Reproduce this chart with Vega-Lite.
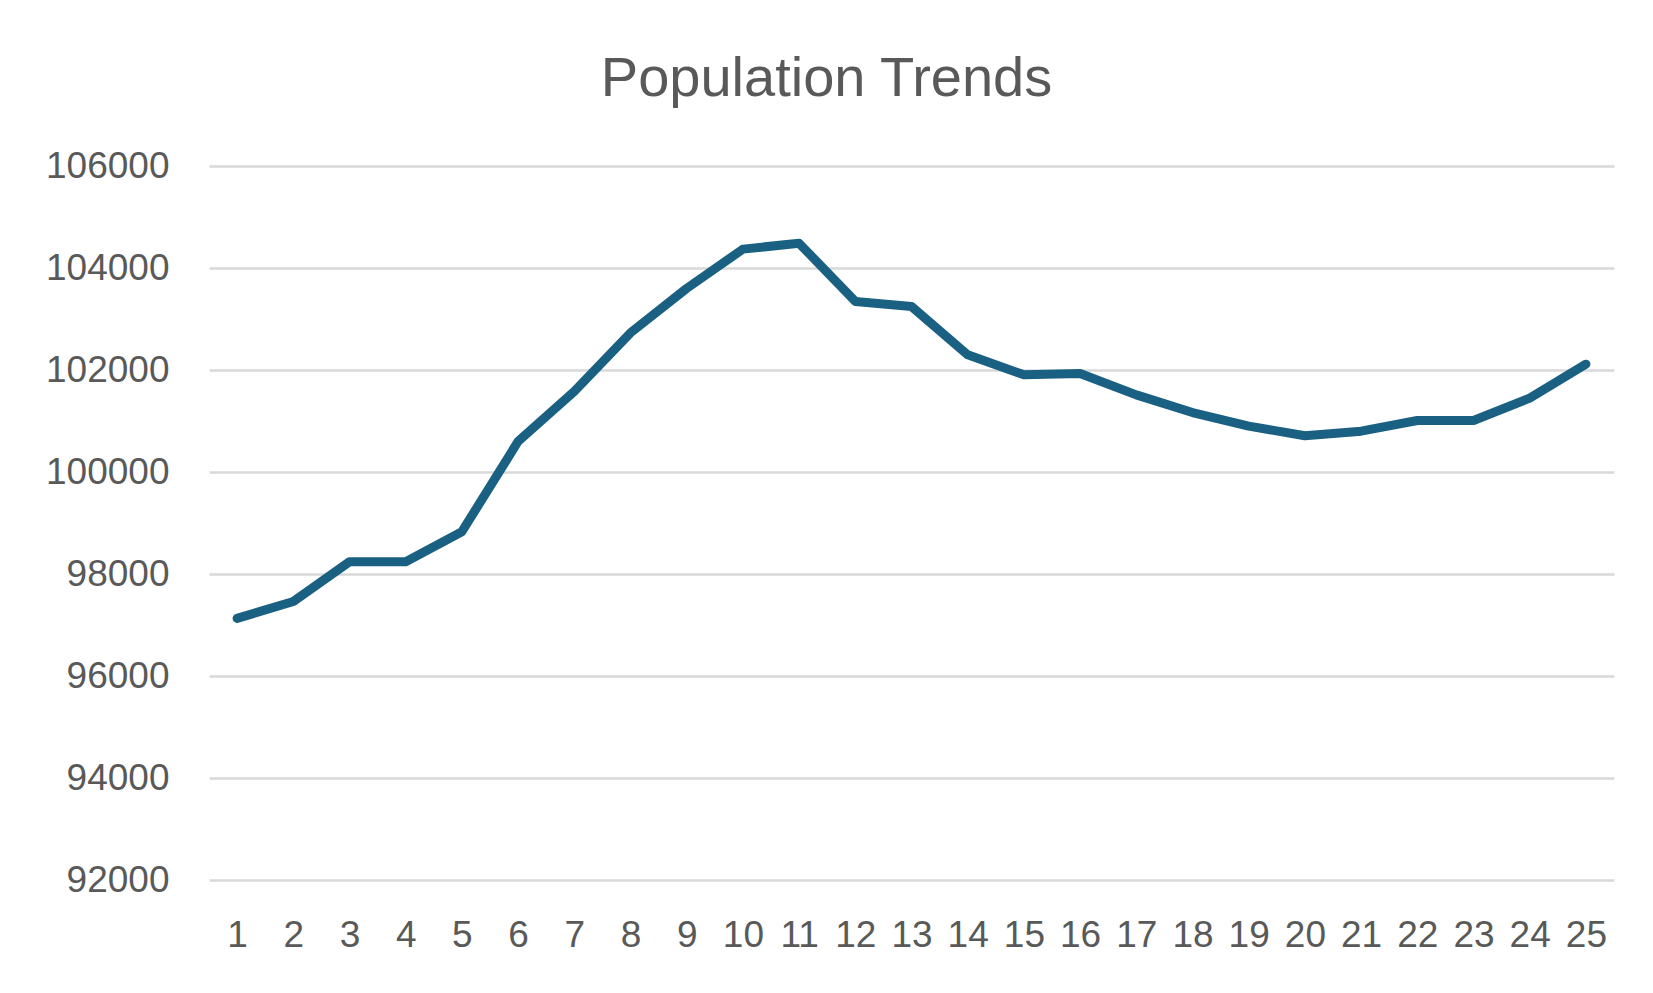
{
  "$schema": "https://vega.github.io/schema/vega-lite/v6.json",
  "autosize": {"type": "none"},
  "width": 1405,
  "height": 714,
  "padding": {"left": 209, "top": 166, "right": 39, "bottom": 113},
  "background": "white",
  "title": {
    "text": "Population Trends",
    "font": "Liberation Sans",
    "fontSize": 56,
    "fontWeight": "normal",
    "color": "#595959",
    "anchor": "middle",
    "dx": -85,
    "baseline": "alphabetic",
    "offset": -5
  },
  "data": {
    "values": [
      {"x": 1, "population": 97130},
      {"x": 2, "population": 97460},
      {"x": 3, "population": 98240},
      {"x": 4, "population": 98240},
      {"x": 5, "population": 98830},
      {"x": 6, "population": 100600},
      {"x": 7, "population": 101580},
      {"x": 8, "population": 102730},
      {"x": 9, "population": 103600},
      {"x": 10, "population": 104370},
      {"x": 11, "population": 104485},
      {"x": 12, "population": 103345},
      {"x": 13, "population": 103245},
      {"x": 14, "population": 102297},
      {"x": 15, "population": 101905},
      {"x": 16, "population": 101930},
      {"x": 17, "population": 101513},
      {"x": 18, "population": 101166},
      {"x": 19, "population": 100900},
      {"x": 20, "population": 100710},
      {"x": 21, "population": 100800},
      {"x": 22, "population": 101010},
      {"x": 23, "population": 101010},
      {"x": 24, "population": 101449},
      {"x": 25, "population": 102114}
    ]
  },
  "mark": {"type": "line", "color": "#1a6082", "strokeWidth": 9, "strokeCap": "round", "strokeJoin": "round"},
  "encoding": {
    "x": {
      "field": "x",
      "type": "ordinal",
      "scale": {"type": "point", "padding": 0.5},
      "axis": {
        "title": null,
        "labelAngle": 0,
        "ticks": false,
        "domain": false,
        "grid": false,
        "labelFont": "Liberation Sans",
        "labelFontSize": 37,
        "labelColor": "#595959",
        "labelPadding": 37
      }
    },
    "y": {
      "field": "population",
      "type": "quantitative",
      "scale": {"domain": [92000, 106000], "nice": false, "zero": false},
      "axis": {
        "title": null,
        "values": [92000, 94000, 96000, 98000, 100000, 102000, 104000, 106000],
        "format": "d",
        "ticks": false,
        "domain": false,
        "grid": true,
        "gridColor": "#d9d9d9",
        "gridWidth": 2.7,
        "labelFont": "Liberation Sans",
        "labelFontSize": 37,
        "labelColor": "#595959",
        "labelPadding": 40
      }
    }
  },
  "config": {"view": {"stroke": null}}
}
